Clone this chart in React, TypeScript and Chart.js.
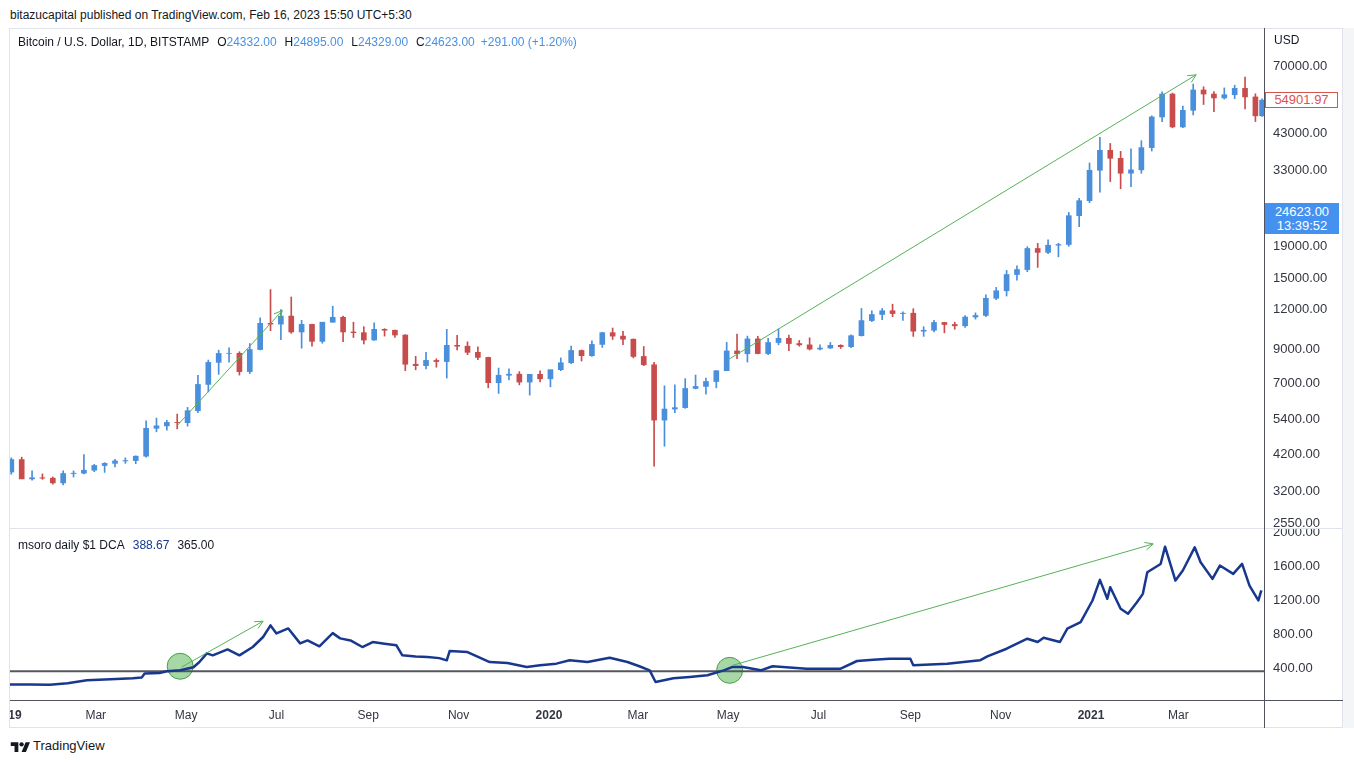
import React, { useEffect, useRef } from "react";
import { Chart, registerables } from "chart.js";

Chart.register(...registerables);

const FONT = "'Liberation Sans', Arial, sans-serif";

// ---------- Data (weekly candles) ----------
const FIRST_WEEK_START = "2018-12-31"; // Monday of first weekly candle
const LAST_WEEK_DAYS = 2; // the last candle covers only 2 days

const OPEN = [
  3690, 4040, 3510, 3540, 3530, 3410, 3650, 3660, 3740, 3870,
  3930, 4000, 4010, 4140, 5070, 5160, 5290, 5280, 5760, 6970,
  8180, 8730, 8740, 7650, 8980, 10860, 10800, 11450, 10200, 10780,
  9530, 10950, 11350, 10200, 10150, 9620, 10400, 10330, 9980, 8070,
  7990, 8300, 8230, 9260, 9200, 8800, 8480, 7060, 7450, 7510,
  7090, 7500, 7260, 7760, 8160, 8920, 8590, 9320, 10150, 9900,
  9680, 8540, 8040, 5380, 5830, 5890, 6770, 6870, 7120, 7700,
  8890, 8710, 9700, 8720, 9450, 9740, 9380, 9290, 9010, 9080,
  9260, 9170, 9930, 11080, 11580, 11900, 11660, 11690, 10260, 10330,
  10930, 10770, 10670, 11370, 11500, 13030, 13760, 15480, 16050, 18700,
  18180, 19150, 19250, 23730, 26460, 33000, 38150, 36000, 32300, 33100,
  38900, 48600, 57400, 45200, 51000, 59100, 57400, 55800, 57100, 59800,
  56200, 49000,
];
const HIGH = [
  4090, 4110, 3720, 3640, 3560, 3720, 3720, 4190, 3900, 3950,
  4050, 4090, 4150, 5350, 5460, 5370, 5620, 5900, 7450, 8320,
  8940, 9090, 8840, 9380, 11300, 13880, 12000, 13150, 11100, 10800,
  10950, 12300, 11450, 10950, 10600, 10900, 10450, 10350, 10000, 8550,
  8800, 8400, 10400, 9950, 9500, 9150, 8500, 7850, 7800, 7650,
  7500, 7700, 7550, 8450, 9200, 8950, 9570, 10180, 10500, 10250,
  9700, 9180, 8180, 6900, 6950, 7270, 7460, 7300, 7700, 9460,
  10050, 9900, 9890, 9740, 10430, 9980, 9590, 9780, 9300, 9450,
  9300, 10000, 12100, 11900, 12100, 12480, 11800, 12080, 10600, 11100,
  10950, 10950, 11500, 11720, 13350, 14100, 15950, 16500, 18950, 19420,
  19920, 19420, 24300, 26900, 34800, 41950, 40100, 37850, 38550, 40900,
  49000, 58300, 57800, 52600, 61700, 60500, 58400, 60000, 61200, 64900,
  57500, 55400,
];
const LOW = [
  3630, 3540, 3480, 3500, 3380, 3360, 3560, 3640, 3700, 3680,
  3830, 3930, 3920, 4110, 4940, 5000, 5050, 5150, 5680, 6600,
  7500, 8200, 7460, 7540, 8960, 10300, 9650, 10100, 9070, 9200,
  9400, 10950, 9500, 9800, 9350, 9600, 9900, 9800, 7700, 7750,
  7800, 7900, 7300, 8950, 8650, 8350, 6800, 6530, 7200, 6950,
  6450, 7100, 6850, 7700, 8100, 8260, 8550, 9120, 9660, 9300,
  8450, 7990, 3850, 4450, 5680, 5860, 6750, 6500, 6800, 7700,
  8400, 8200, 8700, 8650, 9290, 8900, 9200, 8950, 8950, 9050,
  9050, 9100, 9900, 11000, 11150, 11400, 11100, 9880, 9880, 10200,
  10140, 10400, 10540, 11200, 11400, 12900, 13240, 14850, 15800, 16300,
  18000, 17600, 19000, 21900, 26080, 28150, 30400, 28850, 29300, 32300,
  37950, 47000, 44900, 45000, 49300, 53200, 50500, 55300, 55500, 51500,
  47000, 48800,
];
const CLOSE = [
  4040, 3510, 3540, 3530, 3410, 3650, 3660, 3740, 3870, 3930,
  4000, 4010, 4140, 5070, 5160, 5290, 5280, 5760, 6970, 8180,
  8730, 8740, 7650, 8980, 10860, 10800, 11450, 10200, 10780, 9530,
  10950, 11350, 10200, 10150, 9620, 10400, 10330, 9980, 8070, 7990,
  8300, 8230, 9260, 9200, 8800, 8480, 7060, 7450, 7510, 7090,
  7500, 7260, 7760, 8160, 8920, 8590, 9320, 10150, 9900, 9680,
  8540, 8040, 5380, 5830, 5890, 6770, 6870, 7120, 7700, 8890,
  8710, 9700, 8720, 9450, 9740, 9380, 9290, 9010, 9080, 9260,
  9170, 9930, 11080, 11580, 11900, 11660, 11690, 10260, 10330, 10930,
  10770, 10670, 11370, 11500, 13030, 13760, 15480, 16050, 18700, 18180,
  19150, 19250, 23730, 26460, 33000, 38150, 36000, 32300, 33100, 38900,
  48600, 57400, 45200, 51000, 59100, 57400, 55800, 57100, 59800, 56200,
  49000, 54902,
];

// DCA indicator: day (since 2019-01-01) and value
const DCA_DAYS = [
  1, 15, 28, 40, 53, 69, 84, 90, 92, 102,
  107, 116, 125, 129, 134, 138, 148, 156, 165, 172,
  177, 181, 189, 197, 202, 210, 219, 224, 231, 239,
  246, 254, 262, 266, 275, 283, 291, 296, 298, 310,
  325, 337, 350, 359, 370, 379, 391, 406, 418, 426,
  433, 437, 449, 460, 472, 483, 489, 496, 508, 516,
  539, 562, 573, 584, 595, 609, 611, 634, 656, 661,
  674, 688, 695, 699, 710, 715, 724, 732, 737, 742,
  744, 751, 756, 762, 766, 769, 778, 781, 788, 793,
  801, 805, 813, 818, 827, 833, 838, 844, 846,
];
const DCA_VALUES = [
  208, 208, 206, 224, 259, 270, 282, 290, 338, 345,
  365, 376, 412, 474, 576, 553, 623, 553, 651, 769,
  906, 811, 870, 694, 729, 659, 815, 753, 729, 651,
  710, 690, 671, 553, 540, 533, 520, 494, 605, 592,
  474, 463, 416, 435, 455, 494, 474, 525, 474, 424,
  376, 239, 282, 298, 318, 376, 416, 416, 376, 424,
  396, 396, 486, 502, 514, 514, 435, 455, 494, 541,
  631, 749, 710, 761, 710, 867, 945, 1200, 1443, 1220,
  1357, 1102, 1043, 1180, 1278, 1533, 1631, 1835, 1435, 1553,
  1827, 1651, 1455, 1612, 1514, 1631, 1376, 1200, 1318,
];
const DCA_COST = 365;

// Annotations: [day, value]
const PRICE_ARROW_1 = [[114, 5170], [185, 11920]];
const PRICE_ARROW_2 = [[485, 8290], [802, 66000]];
const DCA_ARROW_1 = [[117, 415], [172, 956]];
const DCA_ARROW_2 = [[489, 435], [773, 1867]];
const DCA_CIRCLES = [[116, 424], [487, 376]];

// Axis ticks
const PRICE_TICKS = [2550, 3200, 4200, 5400, 7000, 9000, 12000, 15000, 19000, 33000, 43000, 70000];
const DCA_TICKS = [400, 800, 1200, 1600, 2000];
const X_TICK_DAYS = [0, 59, 120, 181, 243, 304, 365, 425, 486, 547, 609, 670, 731, 790];
const X_TICK_LABELS = ["2019", "Mar", "May", "Jul", "Sep", "Nov", "2020", "Mar", "May", "Jul", "Sep", "Nov", "2021", "Mar"];

// ---------- Styling ----------
const UP = "#4a8fdc";
const DOWN = "#c94c4c";
const GREEN = "#55b256";
const NAVY = "#18388f";
const AXIS_TEXT = "#333640";

const X_MIN = 1.1;
const X_MAX = 847.8;

const DAY_MS = 86400000;
const DAY0 = Date.UTC(2019, 0, 1);

function candleCenters(): number[] {
  const [y, m, d] = FIRST_WEEK_START.split("-").map(Number);
  const startDay = (Date.UTC(y, m - 1, d) - DAY0) / DAY_MS;
  return OPEN.map((_, k) => {
    const span = k === OPEN.length - 1 ? LAST_WEEK_DAYS : 7;
    return startDay + 7 * k + (span - 1) / 2;
  });
}

const toPts = (arr: number[][]) => arr.map(([x, y]) => ({ x, y }));

const noPad = (s: any) => {
  s.paddingLeft = 0;
  s.paddingRight = 0;
  s.paddingTop = 0;
  s.paddingBottom = 0;
};

const arrowPlugin = {
  id: "arrowHeads",
  afterDatasetsDraw(chart: any) {
    const ctx = chart.ctx;
    chart.data.datasets.forEach((ds: any, i: number) => {
      if (!ds.isArrow) return;
      const pts = chart.getDatasetMeta(i).data;
      if (pts.length < 2) return;
      const a = pts[pts.length - 2];
      const b = pts[pts.length - 1];
      const ang = Math.atan2(b.y - a.y, b.x - a.x);
      const L = 9;
      const sp = Math.PI / 7;
      ctx.save();
      ctx.strokeStyle = ds.borderColor;
      ctx.lineWidth = 1;
      ctx.beginPath();
      ctx.moveTo(b.x - L * Math.cos(ang - sp), b.y - L * Math.sin(ang - sp));
      ctx.lineTo(b.x, b.y);
      ctx.lineTo(b.x - L * Math.cos(ang + sp), b.y - L * Math.sin(ang + sp));
      ctx.stroke();
      ctx.restore();
    });
  },
};

function arrowDataset(arr: number[][]) {
  return {
    type: "line" as const,
    data: toPts(arr),
    borderColor: GREEN,
    borderWidth: 1,
    pointRadius: 0,
    isArrow: true,
    order: 0,
  };
}

const yAxisCommon = (ticks: number[]) => ({
  position: "right" as const,
  grid: { display: false, drawTicks: false },
  border: { display: false },
  ticks: {
    padding: 9,
    color: AXIS_TEXT,
    autoSkip: false,
    font: { family: FONT, size: 13 },
    callback: (v: any) => Number(v).toFixed(2),
  },
  afterBuildTicks: (s: any) => {
    s.ticks = ticks.map((v) => ({ value: v }));
  },
  afterFit: (s: any) => {
    s.width = 79;
    noPad(s);
  },
});

function PriceChart() {
  const ref = useRef<HTMLCanvasElement>(null);
  useEffect(() => {
    const centers = candleCenters();
    const colors = CLOSE.map((c, i) => (c >= OPEN[i] ? UP : DOWN));
    const chart = new Chart(ref.current as HTMLCanvasElement, {
      type: "bar",
      data: {
        datasets: [
          arrowDataset(PRICE_ARROW_1) as any,
          arrowDataset(PRICE_ARROW_2) as any,
          {
            type: "bar",
            data: centers.map((x, i) => ({ x, y: [OPEN[i], CLOSE[i]] })) as any,
            backgroundColor: colors,
            barThickness: 5,
            grouped: false,
            order: 1,
          },
          {
            type: "bar",
            data: centers.map((x, i) => ({ x, y: [LOW[i], HIGH[i]] })) as any,
            backgroundColor: colors,
            barThickness: 1,
            grouped: false,
            order: 2,
          },
        ],
      },
      options: {
        responsive: false,
        animation: false,
        events: [],
        layout: { padding: 0, autoPadding: false } as any,
        plugins: { legend: { display: false }, tooltip: { enabled: false } },
        scales: {
          x: { type: "linear", display: false, min: X_MIN, max: X_MAX, offset: false, afterFit: noPad } as any,
          y: { type: "logarithmic", min: 2458, max: 92700, ...yAxisCommon(PRICE_TICKS) } as any,
        },
      },
      plugins: [arrowPlugin],
    });
    return () => chart.destroy();
  }, []);
  return (
    <canvas
      ref={ref}
      width={1333}
      height={500}
      style={{ position: "absolute", left: 10, top: 28, width: 1333, height: 500 }}
    />
  );
}

function DcaChart() {
  const ref = useRef<HTMLCanvasElement>(null);
  useEffect(() => {
    const chart = new Chart(ref.current as HTMLCanvasElement, {
      type: "line",
      data: {
        datasets: [
          arrowDataset(DCA_ARROW_1) as any,
          arrowDataset(DCA_ARROW_2) as any,
          {
            data: DCA_DAYS.map((d, i) => ({ x: d, y: DCA_VALUES[i] })),
            borderColor: NAVY,
            borderWidth: 2.5,
            borderJoinStyle: "round",
            pointRadius: 0,
            tension: 0,
            order: 1,
          },
          {
            data: [
              { x: X_MIN, y: DCA_COST },
              { x: X_MAX, y: DCA_COST },
            ],
            borderColor: "#55575e",
            borderWidth: 2,
            pointRadius: 0,
            order: 2,
          },
          {
            data: toPts(DCA_CIRCLES),
            showLine: false,
            pointRadius: 13,
            pointBackgroundColor: "rgba(92,184,92,0.55)",
            pointBorderColor: "rgba(60,150,60,0.9)",
            pointBorderWidth: 1,
            order: 3,
          },
        ] as any,
      },
      options: {
        responsive: false,
        animation: false,
        events: [],
        layout: { padding: 0, autoPadding: false } as any,
        plugins: { legend: { display: false }, tooltip: { enabled: false } },
        scales: {
          x: {
            type: "linear",
            min: X_MIN,
            max: X_MAX,
            offset: false,
            grid: { display: false, drawTicks: false },
            border: { display: false },
            ticks: {
              padding: 8,
              color: AXIS_TEXT,
              autoSkip: false,
              maxRotation: 0,
              font: (c: any) => ({
                family: FONT,
                size: 12,
                weight: /^\d{4}$/.test(X_TICK_LABELS[c.index] || "") ? "bold" : "normal",
              }),
              callback: (_v: any, i: number) => X_TICK_LABELS[i],
            },
            afterBuildTicks: (s: any) => {
              s.ticks = X_TICK_DAYS.map((v) => ({ value: v }));
            },
            afterFit: (s: any) => {
              s.height = 28;
              noPad(s);
            },
          } as any,
          y: { type: "linear", min: 26, max: 2055, ...yAxisCommon(DCA_TICKS) } as any,
        },
      },
      plugins: [arrowPlugin],
    });
    return () => chart.destroy();
  }, []);
  return (
    <canvas
      ref={ref}
      width={1333}
      height={200}
      style={{ position: "absolute", left: 10, top: 528, width: 1333, height: 200 }}
    />
  );
}

const txt = (left: number, cy: number, size: number, extra: React.CSSProperties = {}): React.CSSProperties => ({
  position: "absolute",
  left,
  top: cy - Math.round(size * 0.6),
  fontSize: size,
  lineHeight: `${Math.round(size * 1.2)}px`,
  fontFamily: FONT,
  color: "#131722",
  whiteSpace: "nowrap",
  ...extra,
});

const line = (left: number, top: number, width: number, height: number, color: string): React.CSSProperties => ({
  position: "absolute",
  left,
  top,
  width,
  height,
  background: color,
});

export default function App() {
  const blue = "#4a90e2";
  return (
    <div
      style={{
        position: "absolute",
        left: 0,
        top: 0,
        width: 1354,
        height: 763,
        background: "#ffffff",
        overflow: "hidden",
        fontFamily: FONT,
      }}
    >
      <div style={txt(10, 15, 12)}>
        bitazucapital published on TradingView.com, Feb 16, 2023 15:50 UTC+5:30
      </div>

      {/* frame */}
      <div style={{ position: "absolute", left: 9, top: 28, width: 1334, height: 700, border: "1px solid #e0e3eb", boxSizing: "border-box" }} />
      <div style={line(1343, 28, 11, 700, "#f4f5f7")} />

      <PriceChart />
      <DcaChart />

      {/* pane separator and axis lines */}
      <div style={line(10, 528, 1333, 1, "#e0e3eb")} />
      <div style={line(10, 700, 1333, 1, "#50535e")} />
      <div style={line(1264, 28, 1, 700, "#50535e")} />

      {/* legends */}
      <div style={txt(18, 42, 12)}>
        Bitcoin / U.S. Dollar, 1D, BITSTAMP
        <span style={{ marginLeft: 8 }}>O</span>
        <span style={{ color: blue }}>24332.00</span>
        <span style={{ marginLeft: 8 }}>H</span>
        <span style={{ color: blue }}>24895.00</span>
        <span style={{ marginLeft: 8 }}>L</span>
        <span style={{ color: blue }}>24329.00</span>
        <span style={{ marginLeft: 8 }}>C</span>
        <span style={{ color: blue }}>24623.00</span>
        <span style={{ color: blue, marginLeft: 6 }}>+291.00 (+1.20%)</span>
      </div>
      <div style={txt(18, 545, 12)}>
        msoro daily $1 DCA
        <span style={{ color: NAVY, marginLeft: 8 }}>388.67</span>
        <span style={{ marginLeft: 8 }}>365.00</span>
      </div>

      {/* price axis extras */}
      <div style={txt(1274, 40, 12)}>USD</div>
      <div
        style={{
          position: "absolute",
          left: 1265,
          top: 92,
          width: 73,
          height: 16,
          border: "1px solid #d9534f",
          boxSizing: "border-box",
          background: "#fff",
          color: "#d9534f",
          fontSize: 13,
          lineHeight: "14px",
          fontFamily: FONT,
          textAlign: "center",
        }}
      >
        54901.97
      </div>
      <div
        style={{
          position: "absolute",
          left: 1265,
          top: 203,
          width: 74,
          height: 31,
          background: "#4591f0",
          color: "#fff",
          fontSize: 13,
          lineHeight: "14px",
          paddingTop: 2,
          boxSizing: "border-box",
          fontFamily: FONT,
          textAlign: "center",
        }}
      >
        24623.00
        <br />
        13:39:52
      </div>

      {/* TradingView logo */}
      <svg style={{ position: "absolute", left: 10, top: 740 }} width="21" height="13" viewBox="0 0 36 24">
        <path d="M14 22H7V11H0V4h14v18z" fill="#131722" />
        <circle cx="20" cy="8" r="4" fill="#131722" />
        <path d="M28 22h-8l7.5-18h8L28 22z" fill="#131722" />
      </svg>
      <div style={txt(33, 746, 13)}>TradingView</div>
    </div>
  );
}
